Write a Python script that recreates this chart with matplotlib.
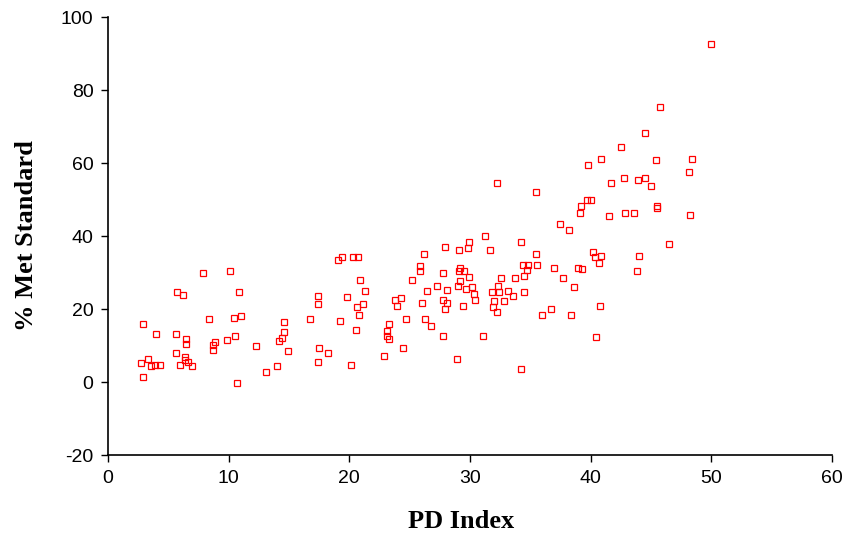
#!/usr/bin/env python3
"""
Scatter: % Met Standard vs PD Index
"""

import matplotlib
matplotlib.use("Agg")
import matplotlib.pyplot as plt

plt.rcParams['axes.unicode_minus'] = False  # reference shows "-20" with a plain hyphen

# ============================================================================
# DATA
# ============================================================================

pd_index = [
    # low PD index
    7.85, 10.1, 5.72, 6.24, 10.88, 2.93, 8.34, 10.47, 10.99, 3.95, 5.6, 6.46,
    6.46, 8.86, 8.73, 8.73, 9.86, 10.5, 12.24, 5.6, 6.35, 6.4, 6.6, 6.99,
    5.97, 3.34, 2.71, 3.56, 3.89, 4.33, 2.93, 10.69, 13.1, 13.97,
    # middle
    14.14, 14.39, 14.6, 14.6, 14.88, 16.76, 17.5, 17.37, 18.25, 17.37, 17.37,
    19.03, 19.39, 20.27, 20.74, 19.77, 20.9, 21.27, 21.15, 20.63, 20.77, 19.25,
    20.52, 20.13, 22.9, 24.41, 23.14, 23.28, 23.14, 23.28, 24.66, 23.78, 24.3,
    23.92, 25.16, 25.82, 25.82, 26.16, 26.4, 26.04, 26.29, 26.79, 27.28,
    # upper middle
    32.2, 35.46, 39.7, 40.0, 39.2, 39.1, 37.47, 38.2, 31.2, 29.93, 34.2, 27.9,
    29.05, 29.83, 31.67, 35.46, 40.2, 40.35, 40.7, 34.4, 34.8, 35.57, 34.68,
    34.47, 36.95, 38.96, 39.3, 37.72, 38.58, 27.78, 29.05, 29.19, 29.47, 29.91,
    29.19, 29.02, 30.18, 29.69, 30.32, 30.43, 32.56, 33.7, 32.29, 33.17, 31.81,
    32.42, 33.58, 34.44, 32.83, 31.95, 31.92, 32.2, 28.06, 27.78, 28.06, 27.92,
    29.44, 27.78, 31.07, 28.94, 34.19, 36.0, 36.7, 38.33, 40.76, 40.46,
    # high PD index
    45.73, 44.49, 42.48, 40.85, 39.74, 45.38, 48.38, 48.13, 41.7, 42.72, 43.96,
    44.49, 44.99, 41.48, 42.86, 43.61, 45.49, 45.49, 48.25, 46.48, 43.99, 43.85,
    40.85, 49.98,
]

pct_met = [
    29.9, 30.4, 24.6, 23.8, 24.6, 15.9, 17.2, 17.6, 18.1, 13.1, 13.1, 11.8,
    10.4, 11.0, 10.1, 8.8, 11.4, 12.6, 10.0, 8.0, 6.8, 6.0, 5.5, 4.3,
    4.7, 6.4, 5.1, 4.3, 4.6, 4.7, 1.4, -0.3, 2.7, 4.3,
    11.3, 12.1, 13.8, 16.4, 8.4, 17.2, 9.2, 5.5, 7.9, 23.5, 21.3,
    33.3, 34.2, 34.2, 34.2, 23.4, 27.9, 25.0, 21.3, 20.5, 18.4, 16.7,
    14.2, 4.7, 7.1, 9.2, 14.1, 15.9, 12.6, 11.8, 17.2, 22.5, 22.9,
    20.8, 27.9, 31.8, 30.4, 35.0, 25.0, 21.7, 17.2, 15.4, 26.3,
    54.5, 52.0, 50.0, 50.0, 48.3, 46.2, 43.4, 41.6, 40.0, 38.4, 38.4, 37.1,
    36.3, 36.6, 36.3, 35.1, 35.6, 34.2, 32.6, 32.1, 32.1, 32.1, 30.7,
    29.1, 31.3, 31.3, 30.9, 28.4, 25.9, 30.0, 30.5, 31.3, 30.5, 28.8,
    27.7, 26.3, 25.9, 25.5, 24.1, 22.5, 28.4, 28.4, 26.3, 25.0, 24.7,
    24.7, 23.7, 24.7, 22.1, 22.1, 20.5, 19.2, 25.1, 22.6, 21.7, 20.1,
    20.9, 12.6, 12.6, 6.3, 3.5, 18.4, 20.1, 18.4, 20.9, 12.2,
    75.3, 68.2, 64.5, 61.2, 59.5, 60.8, 61.2, 57.4, 54.5, 55.8, 55.3,
    55.8, 53.7, 45.4, 46.2, 46.2, 48.2, 47.8, 45.7, 37.9, 34.6, 30.4,
    34.6, 92.7,
]

x_ticks = [0, 10, 20, 30, 40, 50, 60]
y_ticks = [-20, 0, 20, 40, 60, 80, 100]

# ============================================================================
# PLOT
# ============================================================================

fig = plt.figure(figsize=(8.46, 5.33), dpi=100)
ax = fig.add_axes([0.1277, 0.1463, 0.8558, 0.8218])

ax.plot(pd_index, pct_met, linestyle='none', marker='s', markersize=4.6,
        markerfacecolor='none', markeredgecolor='#ff0000', markeredgewidth=0.9)

ax.set_xlim(0, 60)
ax.set_ylim(-20, 100)
ax.set_xticks(x_ticks)
ax.set_yticks(y_ticks)

for side in ['top', 'right']:
    ax.spines[side].set_visible(False)
for side in ['left', 'bottom']:
    ax.spines[side].set_linewidth(1.2)
    ax.spines[side].set_color('black')

ax.tick_params(direction='out', length=5, width=1.0, color='black',
               labelsize=14, pad=5.5)
for lbl in ax.get_xticklabels() + ax.get_yticklabels():
    lbl.set_family('Liberation Sans')

ax.set_xlabel('PD Index', family='Liberation Serif', fontweight='bold',
              fontsize=19, labelpad=17)
ax.set_ylabel('% Met Standard', family='Liberation Serif', fontweight='bold',
              fontsize=19, labelpad=16.5)
# x label sits a little left of the axis centre in the reference
ax.xaxis.label.set_x(0.4876)

plt.savefig('out.png', dpi=100)
